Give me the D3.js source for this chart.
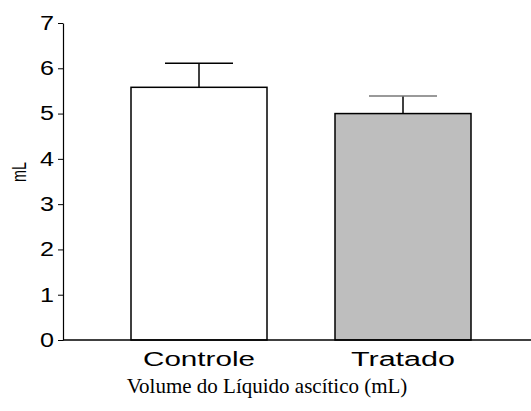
<!DOCTYPE html>
<html>
<head>
<meta charset="utf-8">
<script src="https://cdn.jsdelivr.net/npm/d3@7"></script>
<style>
  html, body { margin: 0; padding: 0; background: #fff; }
  svg { display: block; }
</style>
</head>
<body>
<svg id="chart" width="531" height="411"></svg>
<script>
// Ascitic fluid volume per group (mean and SEM, mL)
const categories = ["Controle", "Tratado"];
const means = [5.58, 5.0];
const sems = [0.53, 0.39];
const fills = ["#ffffff", "#bebebe"];
const yTicks = [0, 1, 2, 3, 4, 5, 6, 7];
const yLabel = "mL";
const title = "Volume do Líquido ascítico (mL)";

const sans = "'Liberation Sans', Arial, sans-serif";
const serif = "'Liberation Serif', 'Times New Roman', serif";

const svg = d3.select("#chart");
const x0 = 63, yTop = 23, yBase = 340;

const y = d3.scaleLinear().domain([0, 7]).range([yBase, yTop]);
const x = d3.scaleBand().domain(categories).range([x0, 539]).paddingInner(1 / 3).paddingOuter(1 / 3);

// bars
svg.selectAll("rect.bar").data(categories).join("rect")
  .attr("class", "bar")
  .attr("x", d => x(d))
  .attr("width", x.bandwidth())
  .attr("y", (d, i) => y(means[i]))
  .attr("height", (d, i) => y(0) - y(means[i]))
  .attr("fill", (d, i) => fills[i])
  .attr("stroke", "#000")
  .attr("stroke-width", 1.5);

// error bars (upper whisker only)
const eb = svg.selectAll("g.err").data(categories).join("g").attr("class", "err");
eb.append("line")
  .attr("x1", d => x(d) + x.bandwidth() / 2)
  .attr("x2", d => x(d) + x.bandwidth() / 2)
  .attr("y1", (d, i) => y(means[i]))
  .attr("y2", (d, i) => y(means[i] + sems[i]))
  .attr("stroke", "#000").attr("stroke-width", 1.5);
eb.append("line")
  .attr("x1", d => x(d) + x.bandwidth() / 4)
  .attr("x2", d => x(d) + x.bandwidth() * 3 / 4)
  .attr("y1", (d, i) => y(means[i] + sems[i]))
  .attr("y2", (d, i) => y(means[i] + sems[i]))
  .attr("stroke", (d, i) => i === 0 ? "#000" : "#777").attr("stroke-width", 1.5);

// y axis
const yAxis = svg.append("g")
  .attr("transform", `translate(${x0},0)`)
  .call(d3.axisLeft(y).tickValues(yTicks).tickFormat(d3.format("d")).tickSize(5).tickPadding(4).tickSizeOuter(0));
yAxis.attr("font-family", sans).attr("font-size", 20);
yAxis.select(".domain").attr("stroke", "#000").attr("stroke-width", 1.2);
yAxis.selectAll(".tick line").attr("stroke", "#000");
yAxis.selectAll(".tick text")
  .attr("fill", "#000")
  .attr("textLength", 14)
  .attr("lengthAdjust", "spacingAndGlyphs");

// x axis baseline running to the right edge
svg.append("line")
  .attr("x1", x0).attr("x2", 531)
  .attr("y1", yBase).attr("y2", yBase)
  .attr("stroke", "#000").attr("stroke-width", 1.5);

// category labels, drawn wide
const catWidths = [112, 104];
svg.selectAll("text.cat").data(categories).join("text")
  .attr("class", "cat")
  .attr("x", d => x(d) + x.bandwidth() / 2)
  .attr("y", 366)
  .attr("text-anchor", "middle")
  .attr("font-family", sans)
  .attr("font-size", 20)
  .attr("textLength", (d, i) => catWidths[i])
  .attr("lengthAdjust", "spacingAndGlyphs")
  .attr("fill", "#000")
  .text(d => d);

// y axis title
svg.append("text")
  .attr("transform", "translate(26,172) rotate(-90)")
  .attr("text-anchor", "middle")
  .attr("font-family", sans)
  .attr("font-size", 20)
  .attr("textLength", 20)
  .attr("lengthAdjust", "spacingAndGlyphs")
  .attr("fill", "#000")
  .text(yLabel);

// caption
svg.append("text")
  .attr("x", 267)
  .attr("y", 393)
  .attr("text-anchor", "middle")
  .attr("font-family", serif)
  .attr("font-size", 21)
  .attr("fill", "#000")
  .text(title);
</script>
</body>
</html>
